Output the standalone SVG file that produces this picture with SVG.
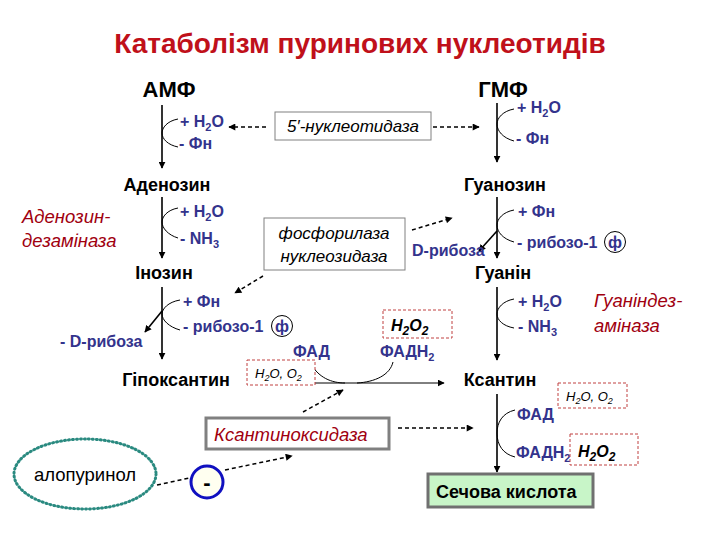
<svg xmlns="http://www.w3.org/2000/svg" width="720" height="540" viewBox="0 0 720 540">
<defs>
<marker id="ah" viewBox="0 0 10 10" refX="9" refY="5" markerWidth="7" markerHeight="7" markerUnits="userSpaceOnUse" orient="auto"><path d="M0,0 L10,5 L0,10 z" fill="#000"/></marker>
<marker id="ad" viewBox="0 0 10 10" refX="9" refY="5" markerWidth="8" markerHeight="7" markerUnits="userSpaceOnUse" orient="auto"><path d="M0,0 L10,5 L0,10 z" fill="#000"/></marker>
<style>
text{font-family:"Liberation Sans",Arial,sans-serif}
.title{font-size:28px;font-weight:bold;fill:#C0101A}
.big{font-size:22px;font-weight:bold;fill:#000}
.node{font-size:18px;font-weight:bold;fill:#000}
.sm{font-size:16px;font-weight:bold;fill:#33338C}
.enz{font-size:17px;font-style:italic;fill:#000}
.red{font-size:18.5px;font-style:italic;fill:#A0000F}
.main{stroke:#000;stroke-width:1.6;fill:none}
.thin{stroke:#000;stroke-width:1;fill:none}
.dash{stroke:#000;stroke-width:1.5;stroke-dasharray:4,3;fill:none}
.rbox{fill:#fff;stroke:#C04040;stroke-width:1;stroke-dasharray:3,2}
.ital{font-size:13px;font-style:italic;fill:#000}
.h2o2{font-size:16px;font-weight:bold;font-style:italic;fill:#000}
</style>
</defs>
<rect width="720" height="540" fill="#fff"/>
<text class="title" x="360" y="53" text-anchor="middle">Катаболізм пуринових нуклеотидів</text>

<g id="connectors">
<line class="main" x1="162" y1="105" x2="162" y2="168" marker-end="url(#ah)"/>
<path class="thin" d="M178,119 C167,121 162,128 162,133 C162,139 168,145 178,147"/>
<line class="main" x1="497" y1="103" x2="497" y2="162" marker-end="url(#ah)"/>
<path class="thin" d="M514,109 C503,111 497,118 497,124 C497,131 503,138 514,141"/>
<line class="main" x1="162" y1="197" x2="162" y2="258" marker-end="url(#ah)"/>
<path class="thin" d="M178,208 C167,210 162,217 162,222 C162,228 168,235 178,238"/>
<line class="main" x1="497" y1="197" x2="497" y2="258" marker-end="url(#ah)"/>
<path class="thin" d="M514,210 C503,212 497,219 497,225 C497,232 503,239 514,242"/>
<line class="main" x1="497" y1="231" x2="479" y2="251" marker-end="url(#ah)"/>
<line class="main" x1="162" y1="287" x2="162" y2="359" marker-end="url(#ah)"/>
<path class="thin" d="M180,300 C168,302 162,309 162,314 C162,320 169,327 180,330"/>
<line class="main" x1="162" y1="311" x2="145" y2="332" marker-end="url(#ah)"/>
<line class="main" x1="497" y1="287" x2="497" y2="360" marker-end="url(#ah)"/>
<path class="thin" d="M514,299 C503,301 497,308 497,314 C497,320 503,326 514,328"/>
<line class="thin" x1="250" y1="383" x2="444" y2="383" marker-end="url(#ah)" stroke-width="1.3"/>
<path class="thin" d="M310,362 C318,378 332,383 345,383 M357,383 C375,382 390,375 393,362"/>
<line class="main" x1="497" y1="394" x2="497" y2="472" marker-end="url(#ah)"/>
<path class="thin" d="M515,410 C502,413 497,423 497,433 C497,445 503,454 515,457"/>
<line class="dash" x1="266" y1="127" x2="229" y2="127" marker-end="url(#ad)"/>
<line class="dash" x1="433" y1="127" x2="479" y2="127" marker-end="url(#ad)"/>
<line class="dash" x1="263" y1="276" x2="235" y2="293" marker-end="url(#ad)"/>
<line class="dash" x1="412" y1="230" x2="452" y2="218" marker-end="url(#ad)"/>
<line class="dash" x1="303" y1="412" x2="343" y2="390" marker-end="url(#ad)"/>
<line class="dash" x1="398" y1="428" x2="473" y2="428" marker-end="url(#ad)"/>
<line class="dash" x1="157" y1="485" x2="189" y2="478"/>
<line class="dash" x1="225" y1="470" x2="292" y2="456" marker-end="url(#ad)"/>
</g>

<g id="amf"><text class="big" x="169" y="97" text-anchor="middle">АМФ</text></g>
<g id="gmf"><text class="big" x="503" y="97" text-anchor="middle">ГМФ</text></g>
<g id="amf-side">
<text class="sm" x="180" y="127">+ H<tspan font-size="11" dy="4">2</tspan><tspan dy="-4">O</tspan></text>
<text class="sm" x="179" y="149">- Фн</text>
</g>
<g id="gmf-side">
<text class="sm" x="517" y="113">+ H<tspan font-size="11" dy="4">2</tspan><tspan dy="-4">O</tspan></text>
<text class="sm" x="516" y="144">- Фн</text>
</g>
<g id="nucleotidase">
<rect x="275" y="112" width="156" height="28" fill="#fff" stroke="#808080" stroke-width="1"/>
<text class="enz" x="353" y="132" text-anchor="middle">5′-нуклеотидаза</text>
</g>
<g id="adenosine"><text class="node" x="167" y="191" text-anchor="middle">Аденозин</text></g>
<g id="guanosine"><text class="node" x="505" y="191" text-anchor="middle">Гуанозин</text></g>
<g id="ada">
<text class="red" x="22" y="223">Аденозин-</text>
<text class="red" x="22" y="247">дезаміназа</text>
</g>
<g id="ado-side">
<text class="sm" x="180" y="217">+ H<tspan font-size="11" dy="4">2</tspan><tspan dy="-4">O</tspan></text>
<text class="sm" x="180" y="244">- NH<tspan font-size="11" dy="4">3</tspan></text>
</g>
<g id="phosphorylase">
<rect x="264" y="218" width="141" height="52" fill="#fff" stroke="#808080" stroke-width="1"/>
<text class="enz" x="334" y="239" text-anchor="middle">фосфорилаза</text>
<text class="enz" x="334" y="262" text-anchor="middle">нуклеозидаза</text>
</g>
<g id="guo-side">
<text class="sm" x="518" y="217">+ Фн</text>
<text class="sm" x="517" y="248">- рибозо-1</text>
<circle cx="615" cy="242" r="10.5" fill="none" stroke="#000" stroke-width="1"/>
<text class="sm" x="615" y="248" text-anchor="middle">ф</text>
<text class="sm" x="412" y="256">D-рибоза</text>
</g>
<g id="inosine"><text class="node" x="164" y="279" text-anchor="middle">Інозин</text></g>
<g id="guanine"><text class="node" x="503" y="279" text-anchor="middle">Гуанін</text></g>
<g id="ino-side">
<text class="sm" x="183" y="307">+ Фн</text>
<text class="sm" x="183" y="332">- рибозо-1</text>
<circle cx="282" cy="326" r="10.5" fill="none" stroke="#000" stroke-width="1"/>
<text class="sm" x="282" y="332" text-anchor="middle">ф</text>
<text class="sm" x="60" y="347">- D-рибоза</text>
</g>
<g id="gua-side">
<text class="sm" x="518" y="307">+ H<tspan font-size="11" dy="4">2</tspan><tspan dy="-4">O</tspan></text>
<text class="sm" x="518" y="332">- NH<tspan font-size="11" dy="4">3</tspan></text>
</g>
<g id="gda">
<text class="red" x="594" y="307">Гуаніндез-</text>
<text class="red" x="594" y="332">аміназа</text>
</g>
<g id="h2o2-left">
<rect class="rbox" x="383" y="310" width="69" height="28"/>
<text class="h2o2" x="391" y="331">H<tspan font-size="12" dy="4">2</tspan><tspan dy="-4">O</tspan><tspan font-size="12" dy="4">2</tspan></text>
</g>
<g id="fad-left"><text class="sm" x="293" y="357">ФАД</text></g>
<g id="fadh2-left"><text class="sm" x="380" y="357">ФАДН<tspan font-size="11" dy="4">2</tspan></text></g>
<g id="hypoxanthine"><text class="node" x="176" y="386" text-anchor="middle">Гіпоксантин</text></g>
<g id="h2o-o2-left">
<rect class="rbox" x="247" y="360" width="68" height="25"/>
<text class="ital" x="255" y="378">H<tspan font-size="9" dy="3">2</tspan><tspan dy="-3">O, O</tspan><tspan font-size="9" dy="3">2</tspan></text>
</g>
<g id="xanthine"><text class="node" x="500" y="386" text-anchor="middle">Ксантин</text></g>
<g id="h2o-o2-right">
<rect class="rbox" x="558" y="383" width="69" height="25"/>
<text class="ital" x="566" y="401">H<tspan font-size="9" dy="3">2</tspan><tspan dy="-3">O, O</tspan><tspan font-size="9" dy="3">2</tspan></text>
</g>
<g id="fad-right"><text class="sm" x="517" y="420">ФАД</text></g>
<g id="fadh2-right"><text class="sm" x="516" y="458">ФАДН<tspan font-size="11" dy="4">2</tspan></text></g>
<g id="h2o2-right">
<rect class="rbox" x="570" y="434" width="68" height="31"/>
<text class="h2o2" x="578" y="457">H<tspan font-size="12" dy="4">2</tspan><tspan dy="-4">O</tspan><tspan font-size="12" dy="4">2</tspan></text>
</g>
<g id="xanthine-oxidase">
<rect x="206" y="418" width="183" height="31" fill="#fff" stroke="#808080" stroke-width="3"/>
<text class="red" x="214" y="441">Ксантиноксидаза</text>
</g>
<g id="uric-acid">
<rect x="428" y="474" width="165" height="33" fill="#C8F5C8" stroke="#707070" stroke-width="3"/>
<text class="node" x="436" y="498" font-size="18.5">Сечова кислота</text>
</g>
<g id="allopurinol">
<ellipse cx="85" cy="474" rx="71" ry="35" fill="#fff" stroke="#2A8A80" stroke-width="3" stroke-dasharray="1,3" stroke-linecap="round"/>
<text x="85" y="481" text-anchor="middle" font-size="18.5" fill="#000">алопуринол</text>
</g>
<g id="inhibit">
<circle cx="207" cy="482" r="16" fill="#FFFFF0" stroke="#1010C0" stroke-width="3"/>
<text x="207" y="490" text-anchor="middle" font-size="22" font-weight="bold" fill="#000">-</text>
</g>
</svg>
